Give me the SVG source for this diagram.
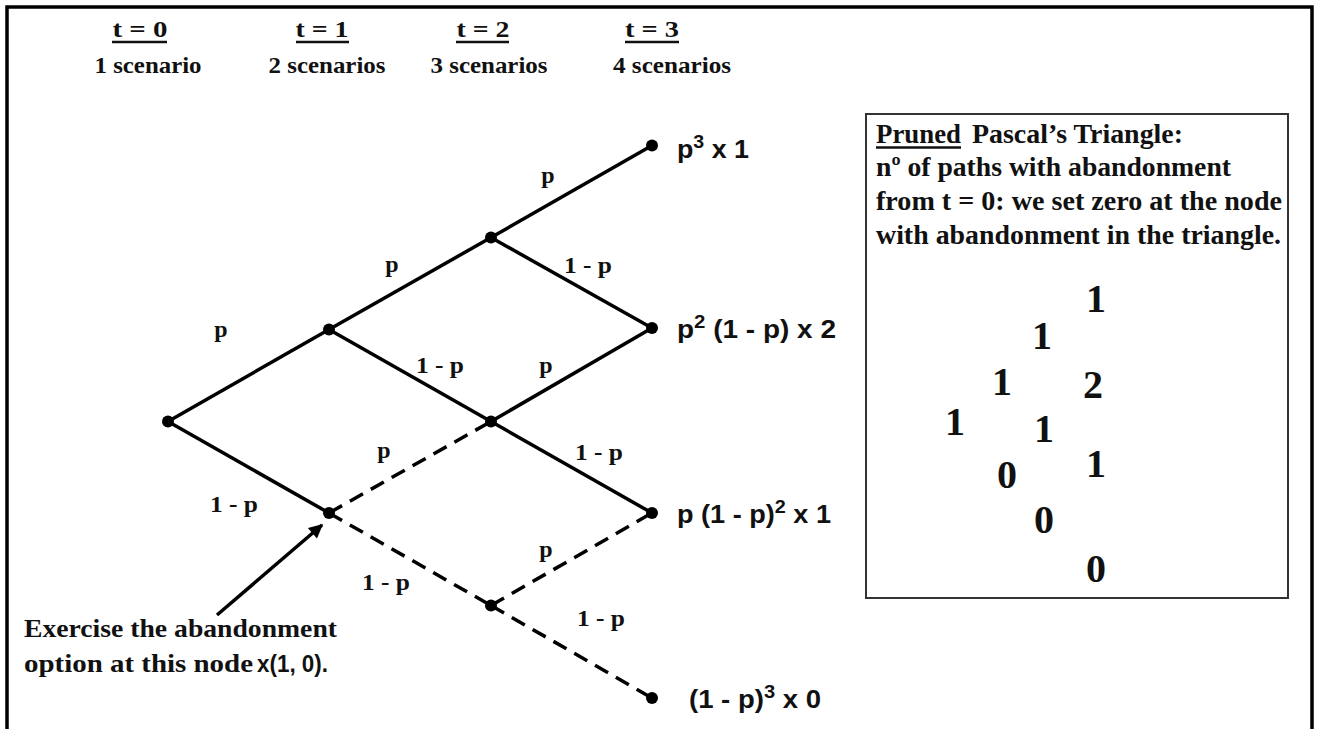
<svg xmlns="http://www.w3.org/2000/svg" width="1317" height="729" viewBox="0 0 1317 729">
<defs>
<style>
.serif{font-family:"Liberation Serif","Times New Roman",serif;font-weight:bold;fill:#111;}
.sans{font-family:"Liberation Sans",Arial,sans-serif;font-weight:bold;fill:#111;}
.hdr{font-size:24px;}
.lbl{font-size:24px;}
.note{font-size:25px;}
.box{font-size:28px;}
.tri{font-size:40px;}
.res{font-size:26px;}
.sup{font-size:19px;}
.edge{stroke:#000;stroke-width:3.5;fill:none;}
.dash{stroke-dasharray:15 9;}
.ul{stroke:#111;stroke-width:2.5;}
.dot{fill:#000;}
</style>
<marker id="ah" viewBox="0 0 10 10" refX="9" refY="5" markerWidth="5" markerHeight="4" markerUnits="strokeWidth" orient="auto">
<path d="M0,0 L10,5 L0,10 z" fill="#000"/>
</marker>
</defs>
<rect width="1317" height="729" fill="#fff"/>
<path d="M7,729 V7 H1312 V729" fill="none" stroke="#000" stroke-width="3.5"/>

<g id="header">
<text class="serif hdr" x="140" y="37" text-anchor="middle" textLength="55" lengthAdjust="spacingAndGlyphs">t = 0</text>
<line class="ul" x1="112" y1="42" x2="167" y2="42"/>
<text class="serif hdr" x="148" y="73" text-anchor="middle" textLength="107" lengthAdjust="spacingAndGlyphs">1 scenario</text>
<text class="serif hdr" x="322" y="37" text-anchor="middle" textLength="53" lengthAdjust="spacingAndGlyphs">t = 1</text>
<line class="ul" x1="296" y1="42" x2="349" y2="42"/>
<text class="serif hdr" x="327" y="73" text-anchor="middle" textLength="117" lengthAdjust="spacingAndGlyphs">2 scenarios</text>
<text class="serif hdr" x="483" y="37" text-anchor="middle" textLength="53" lengthAdjust="spacingAndGlyphs">t = 2</text>
<line class="ul" x1="456" y1="42" x2="509" y2="42"/>
<text class="serif hdr" x="489" y="73" text-anchor="middle" textLength="117" lengthAdjust="spacingAndGlyphs">3 scenarios</text>
<text class="serif hdr" x="652" y="37" text-anchor="middle" textLength="54" lengthAdjust="spacingAndGlyphs">t = 3</text>
<line class="ul" x1="625" y1="42" x2="679" y2="42"/>
<text class="serif hdr" x="672" y="73" text-anchor="middle" textLength="118" lengthAdjust="spacingAndGlyphs">4 scenarios</text>
</g>

<g id="connectors">
<line class="edge" x1="168" y1="421.5" x2="329" y2="329.5"/>
<line class="edge" x1="168" y1="421.5" x2="329" y2="513"/>
<line class="edge" x1="329" y1="329.5" x2="491" y2="237.5"/>
<line class="edge" x1="329" y1="329.5" x2="491" y2="421.5"/>
<line class="edge" x1="491" y1="237.5" x2="652" y2="145.5"/>
<line class="edge" x1="491" y1="237.5" x2="652" y2="328"/>
<line class="edge" x1="491" y1="421.5" x2="652" y2="328"/>
<line class="edge" x1="491" y1="421.5" x2="652" y2="513"/>
<line class="edge dash" x1="329" y1="513" x2="491" y2="421.5"/>
<line class="edge dash" x1="329" y1="513" x2="491" y2="605.5"/>
<line class="edge dash" x1="491" y1="605.5" x2="652" y2="513"/>
<line class="edge dash" x1="491" y1="605.5" x2="652" y2="698"/>
<line x1="217" y1="615" x2="322" y2="525" stroke="#000" stroke-width="3.5" marker-end="url(#ah)"/>
</g>

<g id="edge-labels">
<text class="serif lbl" x="221" y="337" text-anchor="middle">p</text>
<text class="serif lbl" x="392" y="272" text-anchor="middle">p</text>
<text class="serif lbl" x="548" y="183" text-anchor="middle">p</text>
<text class="serif lbl" x="588" y="273" text-anchor="middle" textLength="48" lengthAdjust="spacingAndGlyphs">1 - p</text>
<text class="serif lbl" x="440" y="373" text-anchor="middle" textLength="48" lengthAdjust="spacingAndGlyphs">1 - p</text>
<text class="serif lbl" x="546" y="373" text-anchor="middle">p</text>
<text class="serif lbl" x="384" y="458" text-anchor="middle">p</text>
<text class="serif lbl" x="599" y="460" text-anchor="middle" textLength="48" lengthAdjust="spacingAndGlyphs">1 - p</text>
<text class="serif lbl" x="234" y="512" text-anchor="middle" textLength="48" lengthAdjust="spacingAndGlyphs">1 - p</text>
<text class="serif lbl" x="546" y="557" text-anchor="middle">p</text>
<text class="serif lbl" x="386" y="590" text-anchor="middle" textLength="48" lengthAdjust="spacingAndGlyphs">1 - p</text>
<text class="serif lbl" x="601" y="626" text-anchor="middle" textLength="48" lengthAdjust="spacingAndGlyphs">1 - p</text>
</g>

<g id="n00"><circle class="dot" cx="168" cy="421.5" r="6"/></g>
<g id="n11"><circle class="dot" cx="329" cy="329.5" r="6"/></g>
<g id="n10"><circle class="dot" cx="329" cy="513" r="6"/></g>
<g id="n22"><circle class="dot" cx="491" cy="237.5" r="6"/></g>
<g id="n21"><circle class="dot" cx="491" cy="421.5" r="6"/></g>
<g id="n20"><circle class="dot" cx="491" cy="605.5" r="6"/></g>
<g id="n33"><circle class="dot" cx="652" cy="145.5" r="6"/>
<text class="sans res" x="677" y="158" textLength="72" lengthAdjust="spacingAndGlyphs">p<tspan class="sup" dy="-10">3</tspan><tspan dy="10"> x 1</tspan></text></g>
<g id="n32"><circle class="dot" cx="652" cy="328" r="6"/>
<text class="sans res" x="677" y="338" textLength="159" lengthAdjust="spacingAndGlyphs">p<tspan class="sup" dy="-10">2</tspan><tspan dy="10"> (1 - p) x 2</tspan></text></g>
<g id="n31"><circle class="dot" cx="652" cy="513" r="6"/>
<text class="sans res" x="677" y="523" textLength="154" lengthAdjust="spacingAndGlyphs">p (1 - p)<tspan class="sup" dy="-10">2</tspan><tspan dy="10"> x 1</tspan></text></g>
<g id="n30"><circle class="dot" cx="652" cy="698" r="6"/>
<text class="sans res" x="689" y="708" textLength="132" lengthAdjust="spacingAndGlyphs">(1 - p)<tspan class="sup" dy="-10">3</tspan><tspan dy="10"> x 0</tspan></text></g>

<g id="note">
<text class="serif note" x="24" y="637" textLength="313" lengthAdjust="spacingAndGlyphs">Exercise the abandonment</text>
<text class="serif note" x="24" y="672" textLength="229" lengthAdjust="spacingAndGlyphs">option at this node</text>
<text class="sans lbl" x="257" y="672" textLength="71" lengthAdjust="spacingAndGlyphs">x(1, 0).</text>
</g>

<g id="pascal-box">
<rect x="866" y="114" width="422" height="484" fill="#fff" stroke="#333" stroke-width="2"/>
<text class="serif box" x="876" y="143" textLength="85" lengthAdjust="spacingAndGlyphs">Pruned</text>
<line class="ul" x1="876" y1="147.5" x2="961" y2="147.5"/>
<text class="serif box" x="972" y="143" textLength="211" lengthAdjust="spacingAndGlyphs">Pascal’s Triangle:</text>
<text class="serif box" x="876" y="176" textLength="355" lengthAdjust="spacingAndGlyphs">nº of paths with abandonment</text>
<text class="serif box" x="876" y="210" textLength="406" lengthAdjust="spacingAndGlyphs">from t = 0: we set zero at the node</text>
<text class="serif box" x="876" y="243.5" textLength="405" lengthAdjust="spacingAndGlyphs">with abandonment  in the triangle.</text>
<text class="serif tri" x="1096" y="312" text-anchor="middle">1</text>
<text class="serif tri" x="1042" y="349" text-anchor="middle">1</text>
<text class="serif tri" x="1002" y="395" text-anchor="middle">1</text>
<text class="serif tri" x="1093" y="398" text-anchor="middle">2</text>
<text class="serif tri" x="955" y="435" text-anchor="middle">1</text>
<text class="serif tri" x="1044" y="442" text-anchor="middle">1</text>
<text class="serif tri" x="1007" y="488" text-anchor="middle">0</text>
<text class="serif tri" x="1096" y="477" text-anchor="middle">1</text>
<text class="serif tri" x="1044" y="533" text-anchor="middle">0</text>
<text class="serif tri" x="1096" y="582" text-anchor="middle">0</text>
</g>
</svg>
